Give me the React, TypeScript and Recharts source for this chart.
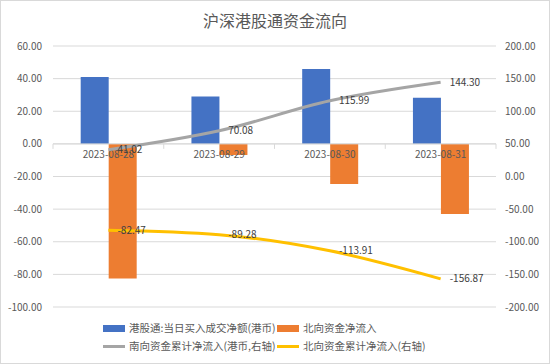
import {
  Bar,
  CartesianGrid,
  ComposedChart,
  LabelList,
  Legend,
  Line,
  ReferenceLine,
  XAxis,
  YAxis,
} from "recharts";

const categories = ["2023-08-28", "2023-08-29", "2023-08-30", "2023-08-31"];
const southDaily = [41.02, 29.06, 45.91, 28.31];
const northDaily = [-82.47, -6.81, -24.63, -42.96];
const southCum = [41.02, 70.08, 115.99, 144.3];
const northCum = [-82.47, -89.28, -113.91, -156.87];

const leftTicks = [-100, -80, -60, -40, -20, 0, 20, 40, 60];
const rightTicks = [-200, -150, -100, -50, 0, 50, 100, 150, 200];

// legend reads row by row: bars first, then the cumulative lines
const legendOrder = ["southDaily", "northDaily", "southCum", "northCum"];

const FONT = '"Noto Sans CJK SC", "Noto Sans", sans-serif';
const AXIS_TEXT = "#595959";
const GRID = "#d9d9d9";

const data = categories.map((date, i) => ({
  date,
  southDaily: southDaily[i],
  northDaily: northDaily[i],
  southCum: southCum[i],
  northCum: northCum[i],
}));

const fmt = (v: unknown) => Number(v).toFixed(2);

// category axis drawn along the zero line (Excel style "axis crosses at 0")
function ZeroAxis(props: any) {
  const vb = props.viewBox || {};
  const x0 = vb.x ?? 0;
  const y0 = vb.y ?? 0;
  const w = vb.width ?? 0;
  const band = w / categories.length;
  return (
    <g>
      {Array.from({ length: categories.length + 1 }).map((_, i) => (
        <line key={"t" + i} x1={x0 + band * i} x2={x0 + band * i} y1={y0} y2={y0 + 5} stroke={GRID} />
      ))}
      {categories.map((c, i) => (
        <text
          key={c}
          x={x0 + band * (i + 0.5)}
          y={y0 + 14}
          textAnchor="middle"
          fontSize={10}
          fill={AXIS_TEXT}
          fontFamily={FONT}
        >
          {c}
        </text>
      ))}
    </g>
  );
}

function LegendGrid({ payload }: any) {
  const items = [...(payload || [])].sort(
    (a: any, b: any) => legendOrder.indexOf(a.dataKey) - legendOrder.indexOf(b.dataKey),
  );
  return (
    <div
      style={{
        display: "grid",
        gridTemplateColumns: "174px 174px",
        paddingLeft: 103,
        rowGap: 2,
        fontFamily: FONT,
        fontSize: 10.5,
        color: AXIS_TEXT,
        lineHeight: "16px",
      }}
    >
      {items.map((e: any) => (
        <div key={e.value} style={{ display: "flex", alignItems: "center", whiteSpace: "nowrap" }}>
          <span
            style={{
              display: "inline-block",
              width: 22,
              height: e.type === "line" ? 3 : 7,
              background: e.color,
              marginRight: 4,
            }}
          />
          {e.value}
        </div>
      ))}
    </div>
  );
}

export default function App() {
  return (
    <div style={{ position: "relative", width: 550, height: 364, background: "#fff" }}>
      <style>{"body{margin:0}"}</style>
      <div
        style={{
          position: "absolute",
          top: 8,
          left: 0,
          width: 550,
          textAlign: "center",
          fontFamily: FONT,
          fontSize: 16,
          color: AXIS_TEXT,
        }}
      >
        沪深港股通资金流向
      </div>
      <ComposedChart
        width={550}
        height={364}
        data={data}
        margin={{ top: 46, right: 0, left: 0, bottom: 23 }}
        barCategoryGap="25%"
        barGap={0}
      >
        <CartesianGrid yAxisId="left" vertical={false} stroke={GRID} />
        <XAxis dataKey="date" hide />
        <YAxis
          yAxisId="left"
          domain={[-100, 60]}
          ticks={leftTicks}
          tickFormatter={fmt}
          width={53}
          axisLine={false}
          tickLine={false}
          tickSize={0}
          tickMargin={11}
          tick={{ fontSize: 10, fill: AXIS_TEXT, fontFamily: FONT }}
        />
        <YAxis
          yAxisId="right"
          orientation="right"
          domain={[-200, 200]}
          ticks={rightTicks}
          tickFormatter={fmt}
          width={54}
          axisLine={false}
          tickLine={false}
          tickSize={0}
          tickMargin={9}
          tick={{ fontSize: 10, fill: AXIS_TEXT, fontFamily: FONT, textAnchor: "start" }}
        />
        <Bar
          yAxisId="left"
          dataKey="southDaily"
          name="港股通:当日买入成交净额(港币)"
          fill="#4472C4"
          isAnimationActive={false}
        />
        <Bar
          yAxisId="left"
          dataKey="northDaily"
          name="北向资金净流入"
          fill="#ED7D31"
          isAnimationActive={false}
        />
        <ReferenceLine yAxisId="left" y={0} stroke={GRID} label={(p: any) => <ZeroAxis {...p} />} />
        <Line
          yAxisId="right"
          type="monotone"
          dataKey="southCum"
          name="南向资金累计净流入(港币,右轴)"
          stroke="#A5A5A5"
          strokeWidth={3}
          dot={false}
          isAnimationActive={false}
        >
          <LabelList
            dataKey="southCum"
            position="right"
            offset={9}
            formatter={fmt}
            style={{ fontSize: 10, fill: "#404040", fontFamily: FONT }}
          />
        </Line>
        <Line
          yAxisId="right"
          type="monotone"
          dataKey="northCum"
          name="北向资金累计净流入(右轴)"
          stroke="#FFC000"
          strokeWidth={3}
          dot={false}
          isAnimationActive={false}
        >
          <LabelList
            dataKey="northCum"
            position="right"
            offset={9}
            formatter={fmt}
            style={{ fontSize: 10, fill: "#404040", fontFamily: FONT }}
          />
        </Line>
        <Legend
          verticalAlign="bottom"
          content={<LegendGrid />}
          wrapperStyle={{ left: 0, width: 550, bottom: 10 }}
        />
      </ComposedChart>
      <div
        style={{
          position: "absolute",
          inset: 0,
          border: "1px solid #d9d9d9",
          pointerEvents: "none",
        }}
      />
    </div>
  );
}
